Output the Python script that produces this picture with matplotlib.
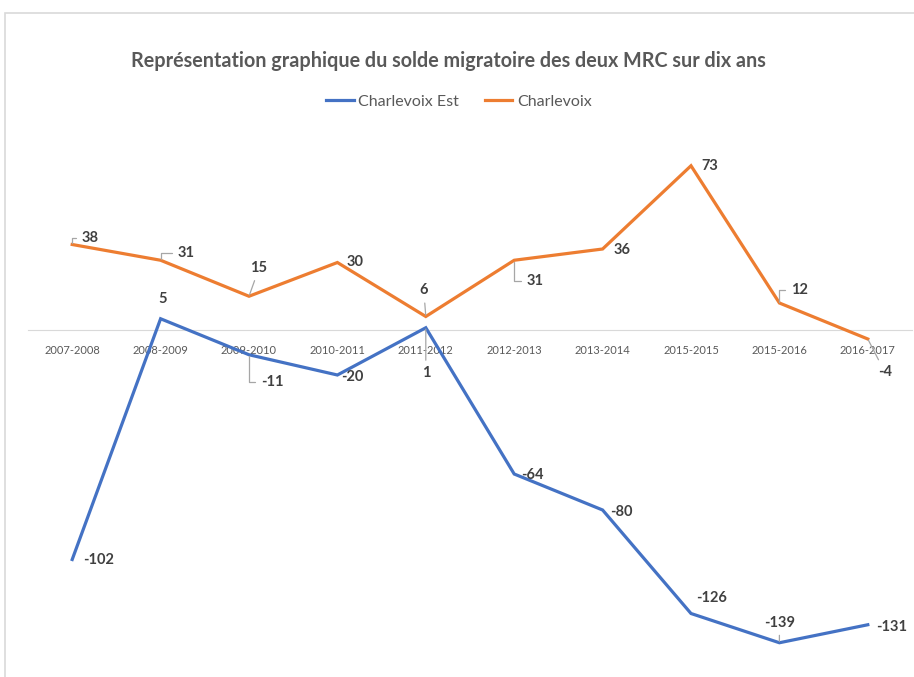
import matplotlib.pyplot as plt
from matplotlib.patches import Rectangle

periodes = ["2007-2008", "2008-2009", "2009-2010", "2010-2011", "2011-2012",
            "2012-2013", "2013-2014", "2015-2015", "2015-2016", "2016-2017"]
charlevoix_est = [-102, 5, -11, -20, 1, -64, -80, -126, -139, -131]
charlevoix = [38, 31, 15, 30, 6, 31, 36, 73, 12, -4]

# label offsets in pixels (dx, dy) and leader style
off_est = [(26, -1, None), (2, 20, None), (23, -27, "elbow"), (15, -2, None), (0, -45, "line"),
           (18, -1, None), (19, -2, None), (21, 15, None), (0, 20, "line"), (24, -2, None)]
off_ch = [(18, 7, "elbow"), (25, 7, "elbow"), (10, 28, "line"), (18, 0, None), (-2, 26, "line"),
          (21, -21, "elbow"), (19, -1, None), (19, 0, None), (20, 13, "elbow"), (17, -33, "line")]

bleu = "#4472C4"
orange = "#ED7D31"
gris = "#595959"

plt.rcParams['font.family'] = ['Lato', 'DejaVu Sans']

fig = plt.figure(figsize=(9.14, 6.77), dpi=100)
W, H = 914, 677

# chart frame (only top and left edges visible)
fig.patches.append(Rectangle((5 / W, -0.1), 1.2, (677 - 13) / H + 0.1, transform=fig.transFigure,
                             fill=False, edgecolor="#d9d9d9", lw=1.2))

ymin, ymax = -150, 80
k = 2.25
zero = 330
top = zero - ymax * k
bot = zero - ymin * k
ax = fig.add_axes([28 / W, 1 - bot / H, (912 - 28) / W, (bot - top) / H])
ax.set_xlim(-0.5, len(periodes) - 0.5)
ax.set_ylim(ymin, ymax)

x = range(len(periodes))
ax.plot(x, charlevoix_est, color=bleu, lw=2.3, label="Charlevoix Est", zorder=3,
        solid_joinstyle="miter")
ax.plot(x, charlevoix, color=orange, lw=2.3, label="Charlevoix", zorder=3,
        solid_joinstyle="miter")

for spine in ["top", "left", "right"]:
    ax.spines[spine].set_visible(False)
ax.spines["bottom"].set_position(("data", 0))
ax.spines["bottom"].set_color("#d9d9d9")
ax.set_yticks([])
ax.set_xticks(list(x))
ax.set_xticklabels(periodes, fontsize=8, color=gris)
ax.tick_params(axis="x", length=0, pad=11)

def etiquettes(vals, offs):
    for i, v in enumerate(vals):
        dx, dy, leader = offs[i]
        props = None
        if leader == "elbow":
            props = dict(arrowstyle="-", color="#a6a6a6", lw=0.9, shrinkA=2, shrinkB=1,
                         connectionstyle="angle,angleA=0,angleB=90,rad=0")
        elif leader == "line":
            props = dict(arrowstyle="-", color="#a6a6a6", lw=0.9, shrinkA=2, shrinkB=1)
        ax.annotate(str(v), xy=(i, v), xytext=(dx, dy), textcoords="offset pixels",
                    ha="center", va="center", fontsize=10.5, fontweight="bold",
                    color="#404040", arrowprops=props, zorder=4)

etiquettes(charlevoix_est, off_est)
etiquettes(charlevoix, off_ch)

fig.text(448 / W, 1 - 61 / H, "Représentation graphique du solde migratoire des deux MRC sur dix ans",
         ha="center", va="center", fontsize=14.2, fontweight="bold", color=gris)
fig.legend(loc="center", bbox_to_anchor=(459 / W, 1 - 102 / H), ncol=2, frameon=False,
           fontsize=11.5, handlelength=1.7, handletextpad=0.3, columnspacing=1.6,
           labelcolor=gris)

plt.savefig("out.png", dpi=100)
plt.close()
